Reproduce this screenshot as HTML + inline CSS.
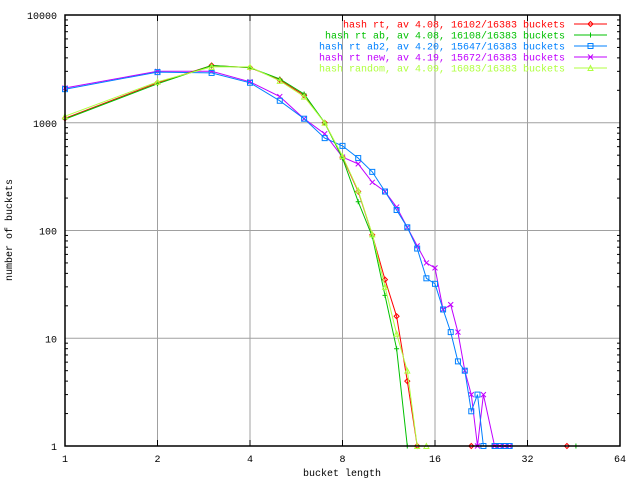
<!DOCTYPE html>
<html><head><meta charset="utf-8"><style>
html,body{margin:0;padding:0;background:#fff;width:640px;height:480px;overflow:hidden}
svg{display:block;font-family:"Liberation Mono",monospace;font-size:10px}
</style></head><body>
<svg id="chart" width="640" height="480" viewBox="0 0 640 480" xmlns="http://www.w3.org/2000/svg">
<rect x="0" y="0" width="640" height="480" fill="#fff"/>
<g id="grid"></g>
<g id="ticks"></g>
<g id="series"></g>
<rect x="65" y="15" width="555" height="431" fill="none" stroke="#000" stroke-width="1.5"/>
<g id="legend"></g>
<text x="12" y="230" transform="rotate(-90 12 230)" text-anchor="middle">number of buckets</text>
<text x="342" y="476" text-anchor="middle">bucket length</text>
</svg>
<script>
const xTicks = [1, 2, 4, 8, 16, 32, 64];
const yTicks = [1, 10, 100, 1000, 10000];
const seriesNames = ["hash rt, av 4.08, 16102/16383 buckets","hash rt ab, av 4.08, 16108/16383 buckets","hash rt ab2, av 4.20, 15647/16383 buckets","hash rt new, av 4.19, 15672/16383 buckets","hash random, av 4.09, 16083/16383 buckets"];
const seriesColors = ["#ff0000","#00c000","#0080ff","#c000ff","#b0ff40"];
const seriesMarkers = ["diamond","plus","square","cross","triangle"];
const rtX = [1,2,3,4,5,6,7,8,9,10,11,12,13,14,21,43];
const rtY = [1100,2350,3400,3250,2500,1800,1000,480,230,91,35,16,4,1,1,1];
const abX = [1,2,3,4,5,6,7,8,9,10,11,12,13,46];
const abY = [1080,2300,3400,3250,2550,1850,1000,470,185,88,25,8,1,1];
const ab2X = [1,2,3,4,5,6,7,8,9,10,11,12,13,14,15,16,17,18,19,20,21,22,23,25,26,27,28];
const ab2Y = [2050,2950,2900,2350,1600,1090,720,610,470,350,230,155,107,68,36,32,18.5,11.4,6.1,5,2.1,3,1,1,1,1,1];
const newX = [1,2,3,4,5,6,7,8,9,10,11,12,13,14,15,16,17,18,19,20,21,22,23,25,26,27,28];
const newY = [2100,3000,3000,2400,1750,1090,790,480,415,280,230,165,107,72,50,45,18.5,20.5,11.4,5,3,1,3,1,1,1,1];
const randX = [1,2,3,4,5,6,7,8,9,10,11,12,13,14,15];
const randY = [1150,2400,3300,3300,2450,1750,1000,490,235,92,30,11,5,1,1];

const NS="http://www.w3.org/2000/svg";
const X0=65,X1=620,Y0=446,Y1=15;
function sx(v){return X0+(X1-X0)*Math.log2(v)/6;}
function sy(v){return Y0-(Y0-Y1)*Math.log10(v)/4;}
function mk(tag,attrs,parent){const e=document.createElementNS(NS,tag);for(const k in attrs)e.setAttribute(k,attrs[k]);parent.appendChild(e);return e;}
const grid=document.getElementById('grid'),ticks=document.getElementById('ticks');
xTicks.forEach(t=>{
  const x=sx(t);
  if(t>1&&t<64){const l=mk('line',{x1:x,y1:Y1,x2:x,y2:Y0,stroke:'#a0a0a0','stroke-width':1},grid);
  
  }
  const tx=mk('text',{x:x,y:Y0+16,'text-anchor':'middle'},ticks);tx.textContent=t;
  
  
  mk('line',{x1:x,y1:Y0,x2:x,y2:Y0-6,stroke:'#000'},ticks);mk('line',{x1:x,y1:Y1,x2:x,y2:Y1+6,stroke:'#000'},ticks);
});
yTicks.forEach(t=>{
  const y=sy(t);
  if(t>1&&t<10000){const l=mk('line',{x1:X0,y1:y,x2:X1,y2:y,stroke:'#a0a0a0','stroke-width':1},grid);
  
  }
  const tx=mk('text',{x:X0-8,y:y+4,'text-anchor':'end'},ticks);tx.textContent=t;
  
  
  if(t<10000)for(let m=2;m<10;m++){const yy=sy(t*m);mk('line',{x1:X0,y1:yy,x2:X0+3,y2:yy,stroke:'#000'},ticks);mk('line',{x1:X1,y1:yy,x2:X1-3,y2:yy,stroke:'#000'},ticks);}
});
function marker(type,x,y,c,p){
  const s=2.5;
  if(type==='diamond')return mk('path',{d:`M${x-s},${y}L${x},${y-s}L${x+s},${y}L${x},${y+s}Z`,fill:'none',stroke:c},p);
  if(type==='plus')return mk('path',{d:`M${x-s},${y}H${x+s}M${x},${y-s}V${y+s}`,stroke:c},p);
  if(type==='square')return mk('rect',{x:x-s,y:y-s,width:2*s,height:2*s,fill:'none',stroke:c},p);
  if(type==='cross')return mk('path',{d:`M${x-s},${y-s}L${x+s},${y+s}M${x-s},${y+s}L${x+s},${y-s}`,stroke:c},p);
  return mk('path',{d:`M${x-s},${y+s}L${x},${y-s}L${x+s},${y+s}Z`,fill:'none',stroke:c},p);
}
const allX=[rtX,abX,ab2X,newX,randX],allY=[rtY,abY,ab2Y,newY,randY];
const sg=document.getElementById('series');
const order=[3,2,0,1,4];
order.forEach(i=>{
  const g=mk('g',{},sg);
  
  
  const pts=allX[i].map((v,j)=>sx(v).toFixed(1)+','+sy(allY[i][j]).toFixed(1)).join(' ');
  const pl=mk('polyline',{points:pts,fill:'none',stroke:seriesColors[i],'stroke-width':1},g);
  
  
  allX[i].forEach((v,j)=>{const m=marker(seriesMarkers[i],sx(v),sy(allY[i][j]),seriesColors[i],g);
    
    });
});
const lg=document.getElementById('legend');
seriesNames.forEach((n,i)=>{
  const y=24+i*11;
  const t=mk('text',{x:565,y:y+3.5,'text-anchor':'end',fill:seriesColors[i]},lg);t.textContent=n;
  
  
  mk('line',{x1:574,y1:y,x2:607,y2:y,stroke:seriesColors[i],'stroke-width':1},lg);
  marker(seriesMarkers[i],590.5,y,seriesColors[i],lg);
});
</script>
</body></html>
